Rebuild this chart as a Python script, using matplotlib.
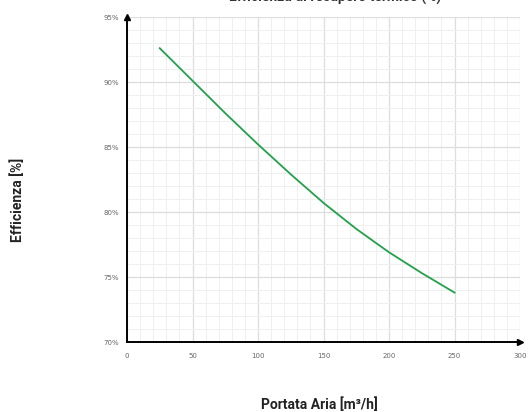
import matplotlib.pyplot as plt
from matplotlib.ticker import MultipleLocator, FuncFormatter

portata = [25, 50, 75, 100, 125, 150, 175, 200, 225, 250]
efficienza = [92.6, 90.1, 87.6, 85.2, 82.9, 80.7, 78.7, 76.9, 75.3, 73.8]

plt.rcParams['font.family'] = ['Roboto', 'DejaVu Sans']

fig = plt.figure(figsize=(5.28, 4.12), dpi=100)
ax = fig.add_axes([0.2405, 0.1699, 0.7445, 0.7888])

ax.plot(portata, efficienza, color='#22a04b', linewidth=1.3)

ax.set_xlim(0, 300)
ax.set_ylim(70, 95)
ax.xaxis.set_major_locator(MultipleLocator(50))
ax.xaxis.set_minor_locator(MultipleLocator(10))
ax.yaxis.set_major_locator(MultipleLocator(5))
ax.yaxis.set_minor_locator(MultipleLocator(1))
ax.yaxis.set_major_formatter(FuncFormatter(lambda v, p: f'{v:.0f}%'))

ax.grid(which='major', color='#dddddd', linewidth=0.9)
ax.grid(which='minor', color='#efefef', linewidth=0.7)
ax.set_axisbelow(True)

for s in ['top', 'right']:
    ax.spines[s].set_visible(False)
for s in ['left', 'bottom']:
    ax.spines[s].set_color('black')
    ax.spines[s].set_linewidth(1.4)

ax.plot(1, 0, '>k', markersize=5, transform=ax.transAxes, clip_on=False)
ax.plot(0, 1, '^k', markersize=5, transform=ax.transAxes, clip_on=False)

ax.tick_params(which='both', length=0, labelsize=5, labelcolor='#666666',
               labelfontfamily='DejaVu Sans')
ax.tick_params(axis='x', pad=8)
ax.tick_params(axis='y', pad=6)

fig.text(0.034, 0.515, 'Efficienza [%]', rotation=90, ha='center', va='center',
         fontsize=10, fontweight='bold', color='#222222')
fig.text(0.605, 0.019, 'Portata Aria [m³/h]', ha='center', va='center',
         fontsize=10, fontweight='bold', color='#222222')
fig.text(0.635, 0.988, 'Efficienza di recupero termico (%)', ha='center', va='bottom',
         fontsize=10, fontweight='bold', color='#333333')

fig.savefig('out.png', dpi=100)
